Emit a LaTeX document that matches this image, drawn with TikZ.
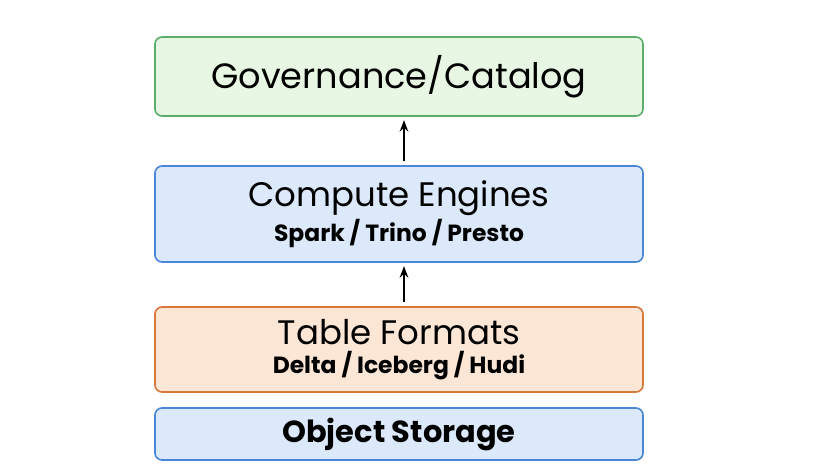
\documentclass[tikz,border=0pt]{standalone}
\usepackage{fontspec}
\setmainfont{Poppins}
\usetikzlibrary{arrows.meta,positioning}
\definecolor{govfill}{HTML}{E8F6E4}
\definecolor{govline}{HTML}{5BAE6A}
\definecolor{blufill}{HTML}{DCE9FB}
\definecolor{bluline}{HTML}{4A86D8}
\definecolor{tabfill}{HTML}{FCE6D6}
\definecolor{tabline}{HTML}{D9773A}
\begin{document}
\begin{tikzpicture}[x=0.03cm,y=-0.03cm,->,>=Stealth,thick,
    layer box/.style={draw,rounded corners=6pt,line width=1.4pt,minimum width=14.64cm,align=center,inner sep=0pt},
    big label/.style={font=\fontsize{30}{34}\selectfont}]
  \useasboundingbox (0,0) rectangle (830,466);
  \node[layer box,draw=govline,fill=govfill,minimum height=2.37cm,big label] (gov) at (399,76.5) {Governance/Catalog};
  \node[layer box,draw=bluline,fill=blufill,minimum height=2.88cm] (comp) at (399,214)
     {{\fontsize{29}{33}\selectfont Compute Engines}\\[2pt]{\fontsize{20}{24}\selectfont\bfseries Spark / Trino / Presto}};
  \node[layer box,draw=tabline,fill=tabfill,minimum height=2.55cm] (tab) at (399,349.5)
     {{\fontsize{29}{33}\selectfont Table Formats}\\[4pt]{\fontsize{20}{24}\selectfont\bfseries Delta / Iceberg / Hudi}};
  \node[layer box,draw=bluline,fill=blufill,minimum height=1.56cm,font=\fontsize{26}{30}\selectfont\bfseries] (obj) at (399,434) {Object Storage};
  % arrows between layers
  \draw[line width=1.5pt] ([xshift=0.15cm,yshift=0.12cm]tab.north) -- ([xshift=0.15cm,yshift=-0.1cm]comp.south);
  \draw[line width=1.5pt] ([xshift=0.15cm,yshift=0.12cm]comp.north) -- ([xshift=0.15cm,yshift=-0.1cm]gov.south);
\end{tikzpicture}
\end{document}
